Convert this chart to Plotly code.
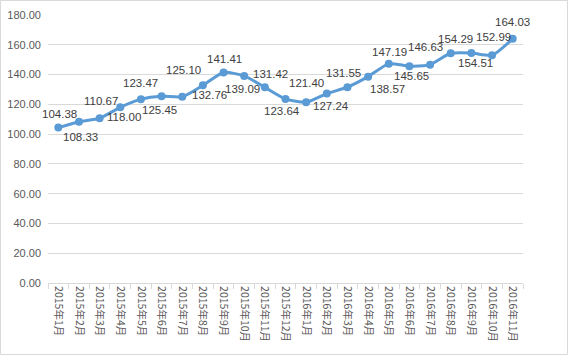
import plotly.graph_objects as go

categories = ["2015年1月", "2015年2月", "2015年3月", "2015年4月", "2015年5月", "2015年6月",
              "2015年7月", "2015年8月", "2015年9月", "2015年10月", "2015年11月", "2015年12月",
              "2016年1月", "2016年2月", "2016年3月", "2016年4月", "2016年5月", "2016年6月",
              "2016年7月", "2016年8月", "2016年9月", "2016年10月", "2016年11月"]
values = [104.38, 108.33, 110.67, 118.00, 123.47, 125.45, 125.10, 132.76, 141.41, 139.09,
          131.42, 123.64, 121.40, 127.24, 131.55, 138.57, 147.19, 145.65, 146.63, 154.29,
          154.51, 152.99, 164.03]
y_ticks = [0, 20, 40, 60, 80, 100, 120, 140, 160, 180]

# label offsets in pixels (dx, dy up)
label_offsets = [(1, 14), (2, -15), (1, 17), (4, -10), (0, 16), (-2, -14), (1, 27), (7, -10),
                 (1, 13), (-2, -13), (6, 13), (-4, -12), (0, 19), (4, -12), (-4, 14), (19, -12),
                 (1, 12), (2, -10), (-5, 18), (5, 14), (4, -10), (1, 18), (0, 17)]

color = "#5B9BD5"
fig = go.Figure()
fig.add_trace(go.Scatter(
    x=categories, y=values, mode="lines+markers",
    line=dict(color=color, width=3, shape="spline", smoothing=0.6),
    marker=dict(color=color, size=8),
    hoverinfo="x+y", showlegend=False,
))

for c, v, (dx, dy) in zip(categories, values, label_offsets):
    fig.add_annotation(x=c, y=v, text=f"{v:.2f}", showarrow=False,
                       xshift=dx, yshift=dy,
                       font=dict(family="Liberation Sans, Arial, sans-serif", size=11.5, color="#404040"))

W, H = 569, 356
L, R, T, B = 48, 46, 15, 73
pw, ph = W - L - R, H - T - B
fig.add_shape(type="rect", xref="paper", yref="paper",
              x0=(0.5 - L) / pw, x1=(W - 1.5 - L) / pw,
              y0=(T + ph - (H - 1.5)) / ph, y1=(T + ph - 0.5) / ph,
              line=dict(color="#D9D9D9", width=1), fillcolor="rgba(0,0,0,0)", layer="below")

fig.update_layout(
    width=W, height=H,
    margin=dict(l=L, r=R, t=T, b=B),
    paper_bgcolor="white", plot_bgcolor="white",
    font=dict(family="Liberation Sans, Noto Sans CJK SC, sans-serif", color="#595959", size=11),
    xaxis=dict(
        type="category", tickangle=90, tickson="boundaries", automargin=False,
        ticks="outside", ticklen=5, tickcolor="#D9D9D9",
        showline=True, linecolor="#D9D9D9", linewidth=1, showgrid=False,
        tickfont=dict(family="Noto Sans CJK SC, sans-serif", size=10.5, color="#595959"),
        range=[-0.5, len(categories) - 0.5],
    ),
    yaxis=dict(
        range=[0, 180], tickvals=y_ticks, tickformat=".2f", automargin=False,
        showgrid=True, gridcolor="#D9D9D9", gridwidth=1,
        zeroline=False, showline=False, ticks="", ticklabelstandoff=6,
        tickfont=dict(family="Liberation Sans, Arial, sans-serif", size=11, color="#595959"),
    ),
)

fig.write_html("out.html", config={"displayModeBar": False},
               post_script="document.body.style.margin='0';document.body.style.overflow='hidden';")
